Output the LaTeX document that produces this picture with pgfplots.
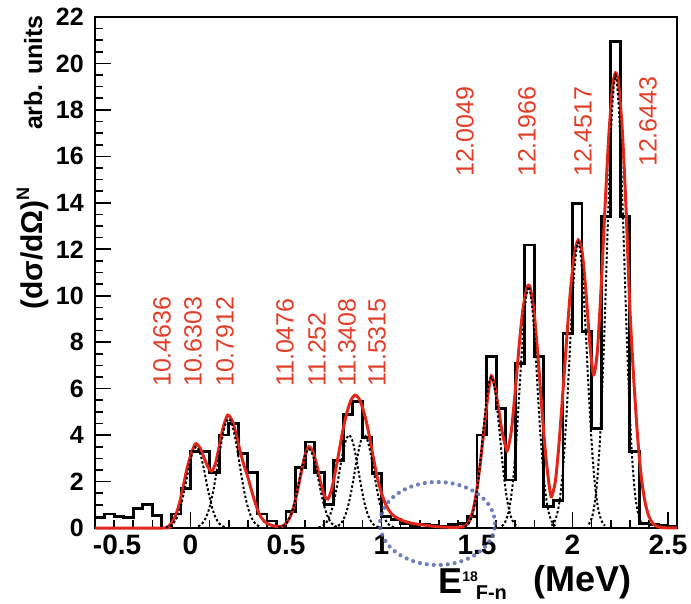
\documentclass[border=0pt]{standalone}
\usepackage{fontspec}
\setmainfont{Liberation Sans}
\usepackage{pgfplots}
\pgfplotsset{compat=1.18}
\usepackage{graphicx}
\definecolor{fitred}{RGB}{226,38,26}
\definecolor{lblred}{RGB}{226,62,40}
\definecolor{ellblue}{RGB}{88,104,178}
\begin{document}
\begin{tikzpicture}
\begin{axis}[
  scale only axis, width=582pt, height=511pt,
  xmin=-0.5, xmax=2.547, ymin=0, ymax=22,
  xtick={-0.5,0,0.5,1,1.5,2,2.5},
  xticklabels={\makebox[0pt][l]{\hspace*{-2pt}-0.5},0,0.5,1,1.5,2,2.5},
  minor x tick num=4,
  ytick={0,2,4,6,8,10,12,14,16,18,20,22},
  yticklabels={0,2,4,6,8,10,12,14,16,18,20,22},
  minor y tick num=3,
  tick align=inside, xtick pos=bottom, ytick pos=left,
  major tick length=16pt, minor tick length=8pt,
  every tick/.append style={black, line width=1.6pt},
  axis line style={line width=1.4pt},
  xticklabel style={font=\fontsize{28}{30}\selectfont\bfseries, inner sep=0pt},
  yticklabel style={font=\fontsize{25}{28}\selectfont\bfseries, inner sep=0pt},
  xticklabel shift=7pt, yticklabel shift=11pt,
  clip=false,
  comp/.style={black, line width=2pt, dash pattern=on 2.4pt off 2.2pt, smooth},
]
\coordinate (bl) at (rel axis cs:0,0);
% histogram (left bin edges)
\addplot[const plot, black, line width=2.8pt] coordinates {
(-0.50,0.45) (-0.45,0.6) (-0.40,0.5) (-0.35,0.45) (-0.30,0.85) (-0.25,1.0)
(-0.20,0.55) (-0.15,0.0) (-0.10,0.6) (-0.05,1.7) (0.00,3.3) (0.05,3.3)
(0.10,2.4) (0.15,4.0) (0.20,4.5) (0.25,3.2) (0.30,2.4) (0.35,0.6)
(0.40,0.3) (0.45,0.08) (0.50,0.7) (0.55,2.6) (0.60,3.7) (0.65,2.4)
(0.70,1.0) (0.75,2.9) (0.80,4.9) (0.85,5.45) (0.90,3.9) (0.95,2.35)
(1.00,0.5) (1.05,0.35) (1.10,0.2) (1.15,0.1) (1.20,0.15) (1.25,0.1)
(1.30,0.05) (1.35,0.15) (1.40,0.2) (1.45,0.5) (1.50,4.0) (1.55,7.37)
(1.60,5.15) (1.65,2.07) (1.70,7.09) (1.75,12.18) (1.80,7.37) (1.85,0.92)
(1.90,1.2) (1.95,8.39) (2.00,13.98) (2.05,8.45) (2.10,4.29) (2.15,13.4)
(2.20,20.93) (2.25,13.4) (2.30,3.29) (2.35,0.2) (2.40,0.15) (2.45,0.1)
(2.50,0.05) (2.547,0.05)
};
% total fit
\addplot[fitred, line width=3pt, smooth, tension=0.45] coordinates {
(-0.50,0) (-0.14,0) (-0.12,0.05) (-0.10,0.2) (-0.08,0.5) (-0.06,1.0) (-0.04,1.7)
(-0.02,2.5) (0.00,3.1) (0.02,3.55) (0.03,3.63) (0.05,3.45) (0.07,3.05)
(0.09,2.65) (0.11,2.45) (0.13,2.75) (0.15,3.5) (0.17,4.3) (0.19,4.8)
(0.20,4.85) (0.22,4.6) (0.24,4.0) (0.26,3.3) (0.28,2.7) (0.30,2.2)
(0.32,1.6) (0.34,1.05) (0.36,0.6) (0.38,0.35) (0.40,0.2) (0.44,0.08)
(0.48,0.08) (0.50,0.2) (0.52,0.45) (0.54,0.9) (0.56,1.6) (0.58,2.4)
(0.60,3.15) (0.62,3.5) (0.64,3.3) (0.66,2.75) (0.68,2.0) (0.70,1.4)
(0.72,1.25) (0.74,1.7) (0.76,2.5) (0.78,3.4) (0.80,4.3) (0.82,5.0)
(0.84,5.5) (0.86,5.72) (0.88,5.6) (0.90,5.2) (0.92,4.6) (0.94,3.8)
(0.96,2.9) (0.98,2.1) (1.00,1.5) (1.02,1.05) (1.04,0.75) (1.06,0.55)
(1.10,0.35) (1.15,0.22) (1.20,0.15) (1.30,0.05) (1.40,0.03) (1.44,0.1)
(1.46,0.3) (1.48,0.8) (1.50,1.7) (1.52,3.0) (1.54,4.5) (1.56,5.9)
(1.575,6.55) (1.59,6.2) (1.61,5.3) (1.63,4.2) (1.65,3.5) (1.66,3.35)
(1.68,4.2) (1.70,5.9) (1.72,7.8) (1.74,9.4) (1.76,10.3) (1.77,10.45)
(1.78,10.3) (1.80,9.2) (1.82,7.3) (1.84,5.1) (1.86,3.1) (1.88,1.7)
(1.89,1.35) (1.91,2.0) (1.93,3.7) (1.95,5.9) (1.97,8.2) (1.99,10.3)
(2.01,11.8) (2.03,12.4) (2.05,11.9) (2.07,10.2) (2.09,8.0) (2.11,6.6)
(2.13,7.6) (2.15,10.4) (2.17,13.8) (2.19,16.9) (2.21,19.0) (2.225,19.6)
(2.24,19.2) (2.26,17.2) (2.28,13.8) (2.30,9.5) (2.32,6.5) (2.34,4.0)
(2.36,2.2) (2.38,1.1) (2.40,0.5) (2.42,0.2) (2.44,0.08) (2.46,0.02) (2.547,0)
};
% components
\addplot[comp] coordinates {
(-0.13,0.02) (-0.11,0.07) (-0.09,0.2) (-0.07,0.47) (-0.05,0.97) (-0.03,1.70)
(-0.01,2.54) (0.01,3.23) (0.03,3.5) (0.05,3.23) (0.07,2.54) (0.09,1.70)
(0.11,0.97) (0.13,0.47) (0.15,0.2) (0.17,0.07) (0.19,0.02)};
\addplot[comp] coordinates {
(0.04,0.07) (0.06,0.18) (0.08,0.435) (0.10,0.90) (0.12,1.63) (0.14,2.59)
(0.16,3.61) (0.18,4.40) (0.20,4.7) (0.22,4.40) (0.24,3.61) (0.26,2.59)
(0.28,1.63) (0.30,0.90) (0.32,0.435) (0.34,0.18) (0.36,0.07)};
\addplot[comp] coordinates {
(0.46,0.02) (0.48,0.067) (0.50,0.19) (0.52,0.46) (0.54,0.945) (0.56,1.66)
(0.58,2.47) (0.60,3.14) (0.62,3.4) (0.64,3.14) (0.66,2.47) (0.68,1.66)
(0.70,0.945) (0.72,0.46) (0.74,0.19) (0.76,0.067) (0.78,0.02)};
\addplot[comp] coordinates {
(0.67,0.024) (0.69,0.08) (0.71,0.22) (0.73,0.54) (0.75,1.11) (0.77,1.95)
(0.79,2.90) (0.81,3.69) (0.83,4.0) (0.85,3.69) (0.87,2.90) (0.89,1.95)
(0.91,1.11) (0.93,0.54) (0.95,0.22) (0.97,0.08) (0.99,0.024)};
\addplot[comp] coordinates {
(0.75,0.024) (0.77,0.08) (0.79,0.22) (0.81,0.54) (0.83,1.11) (0.85,1.95)
(0.87,2.90) (0.89,3.69) (0.91,4.0) (0.93,3.69) (0.95,2.90) (0.97,1.95)
(0.99,1.11) (1.01,0.54) (1.03,0.22) (1.05,0.08) (1.07,0.024)};
\addplot[comp] coordinates {
(1.435,0.05) (1.455,0.185) (1.475,0.55) (1.495,1.34) (1.515,2.67) (1.535,4.38)
(1.555,5.89) (1.575,6.5) (1.595,5.89) (1.615,4.38) (1.635,2.67) (1.655,1.34)
(1.675,0.55) (1.695,0.185) (1.715,0.05)};
\addplot[comp] coordinates {
(1.63,0.08) (1.65,0.30) (1.67,0.88) (1.69,2.14) (1.71,4.27) (1.73,7.01)
(1.75,9.42) (1.77,10.4) (1.79,9.42) (1.81,7.01) (1.83,4.27) (1.85,2.14)
(1.87,0.88) (1.89,0.30) (1.91,0.08)};
\addplot[comp] coordinates {
(1.89,0.097) (1.91,0.35) (1.93,1.04) (1.95,2.53) (1.97,5.06) (1.99,8.29)
(2.01,11.14) (2.03,12.3) (2.05,11.14) (2.07,8.29) (2.09,5.06) (2.11,2.53)
(2.13,1.04) (2.15,0.35) (2.17,0.097)};
\addplot[comp] coordinates {
(2.085,0.154) (2.105,0.556) (2.125,1.65) (2.145,4.02) (2.165,8.01) (2.185,13.14)
(2.205,17.67) (2.225,19.5) (2.245,17.67) (2.265,13.14) (2.285,8.01) (2.305,4.02)
(2.325,1.65) (2.345,0.556) (2.365,0.154)};
% level labels
\begin{scope}[every node/.style={rotate=90, anchor=west, inner sep=0pt, text=lblred, font=\fontsize{25}{28}\selectfont}]
\node at (axis cs:-0.149,6.07) {10.4636};
\node at (axis cs:0.013,6.07) {10.6303};
\node at (axis cs:0.181,6.07) {10.7912};
\node at (axis cs:0.495,6.07) {11.0476};
\node at (axis cs:0.662,6.07) {11.252};
\node at (axis cs:0.819,6.07) {11.3408};
\node at (axis cs:0.976,6.07) {11.5315};
\node at (axis cs:1.437,15.11) {12.0049};
\node at (axis cs:1.762,15.11) {12.1966};
\node at (axis cs:2.055,15.11) {12.4517};
\node at (axis cs:2.395,15.54) {12.6443};
\end{scope}
% ellipse
\draw[ellblue, line width=4.2pt, line cap=round, dash pattern=on 0pt off 7pt, opacity=0.85]
  (axis cs:1.293,0.194) ellipse [x radius=57.5pt, y radius=41.5pt];
% axis titles
\node[anchor=base west, inner sep=0pt, font=\bfseries] at (axis cs:1.296,-2.84)
  {\fontsize{36}{40}\selectfont E\raisebox{12pt}{\fontsize{14}{16}\selectfont 18}\kern-2pt\raisebox{-6pt}{\fontsize{20}{22}\selectfont F-n}};
\node[anchor=base west, inner sep=0pt, font=\bfseries\fontsize{36}{40}\selectfont] at (axis cs:1.793,-2.72) {(MeV)};
\node[rotate=90, anchor=base east, inner sep=0pt, font=\bfseries\fontsize{25}{28}\selectfont] at (axis cs:-0.777,22.09) {arb. units};
\node[rotate=90, anchor=base east, inner sep=0pt, font=\bfseries\fontsize{30}{32}\selectfont] at (axis cs:-0.777,14.68) {(dσ/dΩ)\raisebox{13pt}{\fontsize{18}{20}\selectfont N}};
\end{axis}
\pgfresetboundingbox
\path (bl) ++(-95pt,-75pt) rectangle ++(691pt,603pt);
\end{tikzpicture}
\end{document}
